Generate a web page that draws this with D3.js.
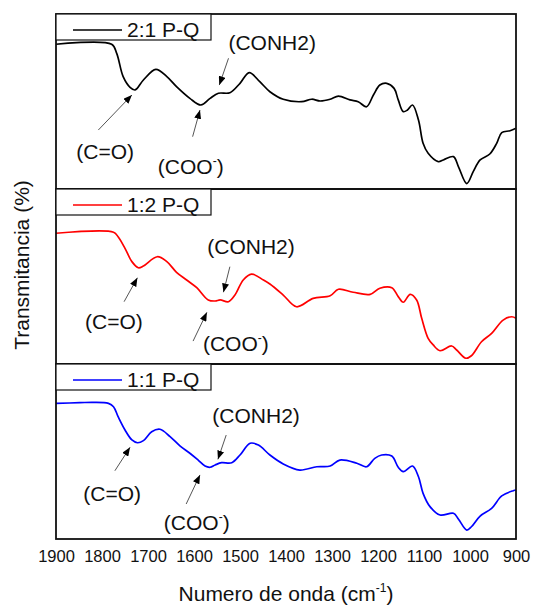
<!DOCTYPE html>
<html>
<head>
<meta charset="utf-8">
<script src="https://cdn.jsdelivr.net/npm/d3@7"></script>
<style>
  html, body { margin: 0; padding: 0; background: #fff; }
  svg { display: block; font-family: "Liberation Sans", Arial, sans-serif; }
</style>
</head>
<body>
<svg id="chart" width="534" height="605"></svg>
<script>
// ---- Data ----
const seriesNames = ["2:1 P-Q", "1:2 P-Q", "1:1 P-Q"];
const seriesColors = ["#000000", "#ff0000", "#0000ff"];

const wn21 = [1900,1779,1768,1754,1739,1728,1710,1683,1659,1638,1609,1585,1565,1547,1522,1500,1480,1457,1435,1406,1366,1344,1326,1304,1286,1261,1243,1225,1210,1196,1181,1165,1156,1145,1136,1125,1112,1102,1091,1069,1058,1036,1025,1007,993,978,957,942,931,913,900];
const t21  = [82.7,82.7,77.5,64.2,58.1,56.6,62.3,68.4,64.2,58.5,51.8,48.0,51.8,54.7,55.0,60.4,66.5,61.3,55.6,51.3,49.9,51.3,50.3,51.3,53.1,50.9,49.9,47.0,53.7,59.4,60.4,57.5,50.9,44.2,45.1,48.0,39.4,26.1,20.4,15.6,16.6,18.5,12.7,3.1,9.9,16.6,20.0,26.1,32.2,33.3,34.7];

const wn12 = [1900,1775,1765,1750,1735,1721,1710,1680,1659,1638,1616,1594,1569,1554,1543,1525,1511,1493,1475,1449,1435,1406,1377,1341,1304,1286,1254,1217,1196,1170,1156,1145,1130,1116,1105,1091,1080,1065,1040,1029,1009,997,975,953,928,909,900];
const t12  = [74.7,75.3,72.7,66.1,58.5,55.0,56.0,61.3,58.5,52.4,48.0,43.6,36.6,36.0,36.6,35.6,39.4,48.0,51.4,48.0,45.7,39.4,32.7,37.5,39.0,42.7,41.0,39.8,43.3,43.6,38.5,35.3,39.8,36.6,26.1,14.7,10.9,7.6,10.3,8.0,3.3,4.7,12.7,17.5,25.1,27.0,26.1];

const wn11 = [1900,1848,1819,1786,1775,1765,1750,1735,1723,1710,1692,1674,1652,1630,1609,1591,1576,1565,1554,1540,1518,1500,1478,1460,1435,1406,1370,1333,1304,1283,1246,1225,1207,1192,1170,1156,1145,1125,1112,1102,1087,1065,1036,1025,1007,997,978,953,931,906,900];
const t11  = [77.5,77.9,78.1,77.5,75.6,69.9,62.3,56.6,55.0,56.2,61.3,62.7,58.5,53.1,49.0,45.1,41.7,41.0,42.3,43.6,43.6,48.0,54.7,53.7,48.0,42.9,39.4,41.3,41.7,45.1,43.3,41.3,46.1,48.0,47.4,41.0,38.5,41.7,35.6,26.1,18.5,13.7,14.7,11.3,5.1,7.0,13.1,17.5,24.6,27.6,28.0];

const tickValues = [1900,1800,1700,1600,1500,1400,1300,1200,1100,1000,900];
const tickLabels = ["1900","1800","1700","1600","1500","1400","1300","1200","1100","1000","900"];

// annotations: panel index, label, text anchor (wavenumber, value), arrow tail -> head
const annoPanel = [0,0,0, 1,1,1, 2,2,2];
const annoKind  = ["C=O","COO","CONH2", "C=O","CONH2","COO", "C=O","CONH2","COO"];
const annoText  = [[1793,17.0],[1607,8.6],[1430,79.3], [1774,19.8],[1476,63.0],[1509,7.4], [1778,21.7],[1465,66.3],[1594,5.4]];
const annoTail  = [[1808,33.7],[1603,29.9],[1525,74.7], [1752,35.6],[1522,55.6],[1602,13.1], [1772,39.0],[1530,59.4],[1617,20.0]];
const annoHead  = [[1735,53.7],[1587,45.1],[1545,59.4], [1723,49.3],[1536,41.0],[1572,29.5], [1739,52.4],[1548,45.5],[1587,36.6]];

const xLabel = "Numero de onda (cm";
const yLabel = "Transmitancia (%)";

// ---- Layout ----
const left = 56, right = 516, top0 = 14, panelH = 175;
const svg = d3.select("#chart");

svg.append("defs").append("marker")
  .attr("id", "arrowhead")
  .attr("markerUnits", "userSpaceOnUse")
  .attr("viewBox", "0 0 10 8")
  .attr("refX", 10).attr("refY", 4)
  .attr("markerWidth", 9).attr("markerHeight", 7)
  .attr("orient", "auto")
  .append("path").attr("d", "M0,0 L10,4 L0,8 Z").attr("fill", "#000");

const x = d3.scaleLinear().domain([1900, 900]).range([left, right]);

const seriesData = [
  wn21.map((w, i) => [w, t21[i]]),
  wn12.map((w, i) => [w, t12[i]]),
  wn11.map((w, i) => [w, t11[i]])
];

const yScales = [];
seriesData.forEach((data, i) => {
  const top = top0 + i * panelH;
  const y = d3.scaleLinear().domain([0, 100]).range([top + panelH, top]);
  yScales.push(y);
  const g = svg.append("g");

  const line = d3.line()
    .x(d => x(d[0])).y(d => y(d[1]))
    .curve(d3.curveCatmullRom.alpha(0.5));

  g.append("path")
    .datum(data)
    .attr("d", line)
    .attr("fill", "none")
    .attr("stroke", seriesColors[i])
    .attr("stroke-width", 1.7)
    .attr("stroke-linejoin", "round");

  // frame
  g.append("rect")
    .attr("x", left).attr("y", top)
    .attr("width", right - left).attr("height", panelH)
    .attr("fill", "none").attr("stroke", "#111").attr("stroke-width", 1.8);

  // legend
  const lg = g.append("g");
  lg.append("rect")
    .attr("x", left).attr("y", top)
    .attr("width", 155).attr("height", 26)
    .attr("fill", "#fff").attr("stroke", "#111").attr("stroke-width", 1.2);
  lg.append("line")
    .attr("x1", 73).attr("x2", 122)
    .attr("y1", top + 16).attr("y2", top + 16)
    .attr("stroke", seriesColors[i]).attr("stroke-width", 1.7);
  lg.append("text")
    .attr("x", 127).attr("y", top + 22.5)
    .attr("font-size", 21).attr("fill", "#111")
    .text(seriesNames[i]);
});

// annotations
annoPanel.forEach((p, k) => {
  const y = yScales[p];
  svg.append("line")
    .attr("x1", x(annoTail[k][0])).attr("y1", y(annoTail[k][1]))
    .attr("x2", x(annoHead[k][0])).attr("y2", y(annoHead[k][1]))
    .attr("stroke", "#555").attr("stroke-width", 1)
    .attr("marker-end", "url(#arrowhead)");
  const t = svg.append("text")
    .attr("x", x(annoText[k][0])).attr("y", y(annoText[k][1]))
    .attr("text-anchor", "middle")
    .attr("font-size", 21).attr("fill", "#111");
  if (annoKind[k] === "COO") {
    t.append("tspan").text("(COO");
    t.append("tspan").attr("dy", -9).attr("font-size", 12).text("-");
    t.append("tspan").attr("dy", 9).text(")");
  } else {
    t.text("(" + annoKind[k] + ")");
  }
});

// x axis (labels only)
const bottom = top0 + 3 * panelH;
const axis = d3.axisBottom(x)
  .tickValues(tickValues)
  .tickFormat((d, i) => tickLabels[i])
  .tickSize(0).tickPadding(11);
const ax = svg.append("g").attr("transform", `translate(0,${bottom})`).call(axis);
ax.select(".domain").remove();
ax.selectAll("text").attr("font-size", 16.5).attr("fill", "#111")
  .attr("font-family", "'Liberation Sans', Arial, sans-serif");

// axis titles
const xt = svg.append("text")
  .attr("x", (left + right) / 2).attr("y", 601)
  .attr("text-anchor", "middle").attr("font-size", 21).attr("fill", "#111");
xt.append("tspan").text(xLabel);
xt.append("tspan").attr("dy", -9).attr("font-size", 12).text("-1");
xt.append("tspan").attr("dy", 9).text(")");

svg.append("text")
  .attr("transform", `translate(29,265) rotate(-90)`)
  .attr("text-anchor", "middle").attr("font-size", 21).attr("fill", "#111")
  .text(yLabel);
</script>
</body>
</html>
